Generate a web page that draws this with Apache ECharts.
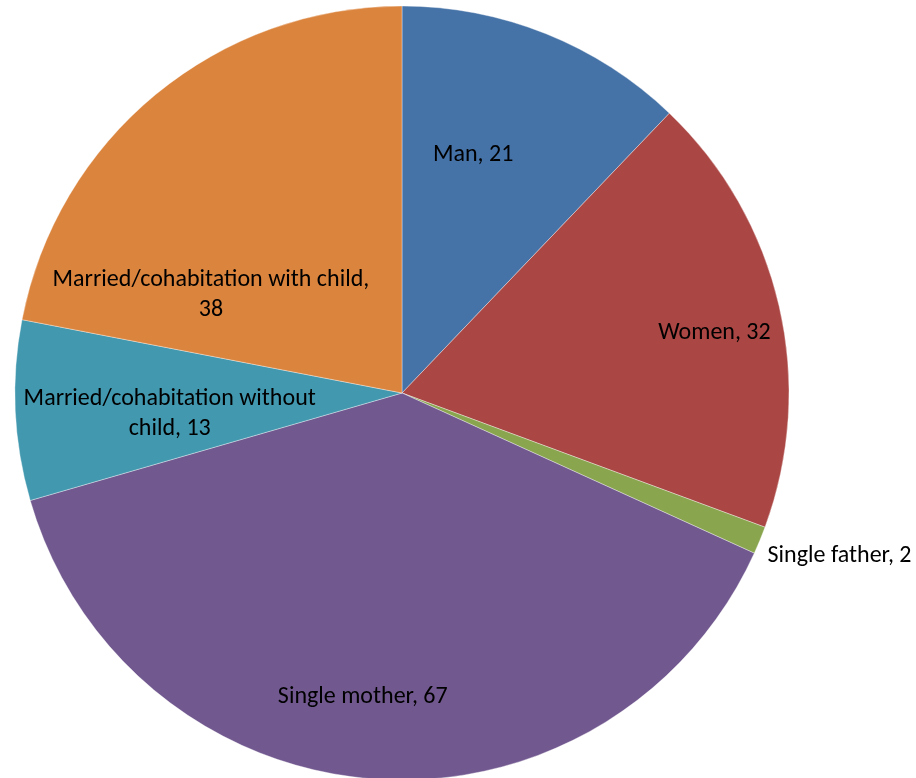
<!DOCTYPE html>
<html>
<head>
<meta charset="utf-8">
<script src="https://cdn.jsdelivr.net/npm/echarts@6/dist/echarts.min.js"></script>
<style>
  html, body { margin: 0; padding: 0; background: #fff; }
  #chart { width: 916px; height: 778px; }
</style>
</head>
<body>
<div id="chart"></div>
<script>
// data
const categories = ['Man', 'Women', 'Single father', 'Single mother', 'Married/cohabitation without\nchild', 'Married/cohabitation with child,\n'];
const values = [21, 32, 2, 67, 13, 38];
const colors = ['#4572A7', '#AA4643', '#89A54E', '#71588F', '#4198AF', '#DB843D'];

// label nudges (Excel "best fit" look)
const labelOffsets = [[-2, -56], [121, -16], [-5, 14], [-25, 108], [-36, 12], [-66, 54]];

const chart = echarts.init(document.getElementById('chart'));

const data = categories.map((name, i) => {
  const item = { name: name, value: values[i], itemStyle: { color: colors[i] } };
  if (name === 'Single father') {
    item.label = { position: 'outside', align: 'left', overflow: 'none', width: 200 };
    item.labelLine = { show: false, length: 4, length2: 4 };
  }
  return item;
});

chart.setOption({
  animation: false,
  series: [{
    type: 'pie',
    center: [402, 393],
    radius: 387,
    startAngle: 90,
    clockwise: true,
    data: data,
    itemStyle: { borderColor: 'rgba(255,255,255,0.6)', borderWidth: 0.6 },
    label: {
      position: 'inside',
      color: '#000',
      fontFamily: 'Carlito, Lato, sans-serif',
      fontSize: 24,
      lineHeight: 30,
      align: 'center',
      formatter: p => p.name.endsWith('\n') ? p.name + p.value : p.name + ', ' + p.value
    },
    labelLine: { show: false },
    labelLayout: params => ({ dx: labelOffsets[params.dataIndex][0], dy: labelOffsets[params.dataIndex][1] })
  }]
});
</script>
</body>
</html>
